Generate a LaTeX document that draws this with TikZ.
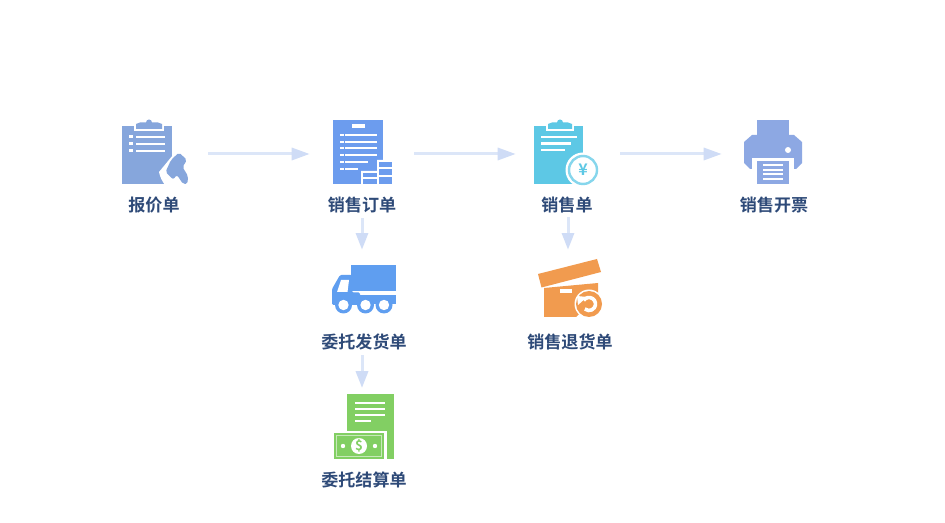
\documentclass[tikz,border=0pt]{standalone}
\usepackage{fontspec}
\setmainfont{Noto Sans CJK SC}[BoldFont={* Bold}]
\usetikzlibrary{arrows.meta}
\definecolor{lineblue}{HTML}{DCE6F8}
\definecolor{headblue}{HTML}{CFDCF6}
\definecolor{labelblue}{HTML}{2E4A78}
\definecolor{clipblue}{HTML}{86A6DC}
\definecolor{docblue}{HTML}{6C9CEE}
\definecolor{teal1}{HTML}{5DC8E5}
\definecolor{printblue}{HTML}{8DA8E3}
\definecolor{truckblue}{HTML}{5F9EF0}
\definecolor{green1}{HTML}{82CF63}
\definecolor{orange1}{HTML}{F19B4F}
\tikzset{
  iconbox/.style={minimum width=48pt,minimum height=48pt,inner sep=0pt},
  lab/.style={font=\bfseries\fontsize{12.8pt}{14pt}\selectfont,text=labelblue,inner sep=0pt},
  flowh/.style={draw=lineblue,line width=2.25pt,-{Triangle[length=13.5pt,width=9pt,color=headblue]}},
  flowv/.style={draw=lineblue,line width=2.25pt,-{Triangle[length=12.5pt,width=9pt,color=headblue]}},
  wl/.style={white,line width=1.2pt},
}
\begin{document}
\begin{tikzpicture}[x=0.75pt,y=-0.75pt]
\useasboundingbox (0,0) rectangle (945,523);
\fill[white] (0,0) rectangle (945,523);

% named places of the icons
\node[iconbox] (quote) at (154,154) {};
\node[iconbox] (order) at (362,154) {};
\node[iconbox] (sale) at (567,154) {};
\node[iconbox] (inv) at (773,154) {};
\node[iconbox,minimum height=36.75pt] (truck) at (362,289) {};
\node[iconbox,minimum height=36.75pt] (ret) at (568,289) {};
\node[iconbox,minimum height=36.75pt] (bill) at (362,426) {};

% labels
\node[lab] (lq) at (154,205) {报价单};
\node[lab] (lo) at (362,205) {销售订单};
\node[lab] (ls) at (567,205) {销售单};
\node[lab] (li) at (774,205) {销售开票};
\node[lab] (lt) at (364,342) {委托发货单};
\node[lab] (lr) at (570,342) {销售退货单};
\node[lab] (lb) at (364,480) {委托结算单};

% connectors
\draw[flowh,shorten <=16.5pt,shorten >=15pt] (quote.east) -- (order.west);
\draw[flowh,shorten <=15pt,shorten >=14.25pt] (order.east) -- (sale.west);
\draw[flowh,shorten <=15.75pt,shorten >=14.25pt] (sale.east) -- (inv.west);
\draw[flowv,shorten <=3.5pt,shorten >=10.9pt] (lo.south) -- (truck.north);
\draw[flowv,shorten <=3pt,shorten >=10.9pt] (ls.south -| ret.north) -- (ret.north);
\draw[flowv,shorten <=3.5pt,shorten >=10pt] (lt.south -| bill.north) -- (bill.north);

% quote clipboard
\fill[clipblue] (122,126) rectangle (172,184);
\fill[white] (134,120) rectangle (164,131);
\fill[clipblue] (136,129) -- (136,124) -- (140,122.5) -- (146,122.5) arc[start angle=180,end angle=360,radius=3] -- (158,122.5) -- (162,124) -- (162,129) -- cycle;
\foreach \yy in {137,144,151}{
  \fill[white] (129,\yy-1.5) rectangle (133,\yy+1.5);
  \draw[wl] (136,\yy) -- (165,\yy);
}
\fill[white] (173,155) -- (159,172) .. controls (160,177) and (162,181) .. (165,185) -- (192,185) -- (192,150) -- (173,150) -- cycle;
\fill[clipblue,rounded corners=1.5pt] (179,152.5) -- (187,160) -- (182.5,167) -- (188,176) -- (187.5,184) -- (183,184) -- (177,175) -- (173,179.5) -- (165.5,172) -- (171,160) -- cycle;

% order document
\fill[docblue] (333,120) rectangle (383,184);
\fill[white] (352,124) rectangle (365,128);
\foreach \yy in {135,142,148,155}{
  \fill[white] (340,\yy-1.2) rectangle (343.5,\yy+1.2);
  \draw[wl] (345,\yy) -- (377,\yy);
}
\fill[white] (340,160.8) rectangle (343.5,163.2);
\draw[wl] (345,162) -- (368,162);
\fill[white] (340,167.8) rectangle (343.5,170.2);
\draw[wl] (345,169) -- (358,169);
\fill[white] (361,171) -- (377,171) -- (377,160) -- (394,160) -- (394,185) -- (361,185) -- cycle;
\foreach \yy/\hh in {162/5,169.5/5.5,177/7}{\fill[docblue] (379,\yy) rectangle (392,\yy+\hh);}
\foreach \yy/\hh in {173/4,179/5}{\fill[docblue] (363,\yy) rectangle (377,\yy+\hh);}

% sale clipboard
\fill[teal1] (534,126) rectangle (583,184);
\fill[white] (546,120) rectangle (574,131);
\fill[teal1] (548,129) -- (548,124) -- (552,122.5) -- (557,122.5) arc[start angle=180,end angle=360,radius=3] -- (568,122.5) -- (572,124) -- (572,129) -- cycle;
\draw[white,line width=2pt] (541,137) -- (577,137);
\draw[white,line width=2pt] (541,143.5) -- (571,143.5);
\draw[white,line width=2pt] (541,150) -- (565,150);
\fill[white] (583,170) circle[radius=17.5];
\draw[teal1!75,line width=1.8pt] (583,170) circle[radius=14];
\node[text=teal1,inner sep=0pt,font=\bfseries\fontsize{12pt}{13pt}\selectfont] (yen) at (583,170) {¥};

% printer
\fill[printblue] (757,120) rectangle (789,135);
\fill[printblue] (752,135) -- (794,135) -- (802,142) -- (802,163) -- (796,169) -- (750,169) -- (744,163) -- (744,142) -- cycle;
\fill[white] (788,150) circle[radius=3];
\fill[white] (752,158) rectangle (794,185);
\fill[printblue] (757,161) rectangle (789,184);
\foreach \yy in {165.5,170,174.5,179}{\draw[white,line width=1.5pt] (763,\yy) -- (783,\yy);}

% truck
\fill[truckblue] (351,265) rectangle (396,291.5);
\fill[truckblue] (360,295) rectangle (396,304);
\fill[truckblue,rounded corners=1pt] (340,275) -- (352,275) -- (352,292.5) -- (360,292.5) -- (360,305) -- (332,305) -- (332,289) -- cycle;
\fill[white] (341,280) -- (349,280) -- (347.5,292) -- (337,292) -- cycle;
\foreach \xx in {343.5,365.5,384}{
  \fill[truckblue] (\xx,305) circle[radius=8.5];
  \fill[white] (\xx,305) circle[radius=5.2];
}

% return box
\fill[orange1] (538,274) -- (597,259) -- (601,272) -- (541.5,287.5) -- cycle;
\fill[orange1] (544,288) -- (598,283) -- (598,296) -- (576,317) -- (544,317) -- cycle;
\fill[white] (560,289) rectangle (572,293);
\fill[white] (589,304) circle[radius=14.5];
\fill[orange1] (589,304) circle[radius=13];
\draw[white,line width=2.7pt] (589,304) ++(215:6.5) arc[start angle=215,end angle=490,radius=6.5];
\fill[white] (577,296) -- (587,297) -- (578,305) -- cycle;

% bill
\fill[green1] (347,394) rectangle (394,459);
\foreach \yy in {403,409,415}{\draw[wl] (355,\yy) -- (385,\yy);}
\draw[wl] (355,421) -- (371,421);
\fill[white] (332,431) rectangle (386.5,460);
\fill[green1] (334,433) rectangle (384,459);
\draw[green1!45!white,line width=0.6pt] (336.5,435.5) rectangle (381.5,456.5);
\fill[white] (359,446) circle[radius=8];
\node[text=green1,inner sep=0pt,font=\bfseries\fontsize{10pt}{11pt}\selectfont] (dollar) at (359,446) {\$};
\fill[white] (343,446) circle[radius=2.2];
\fill[white] (375,446) circle[radius=2.2];
\end{tikzpicture}
\end{document}
